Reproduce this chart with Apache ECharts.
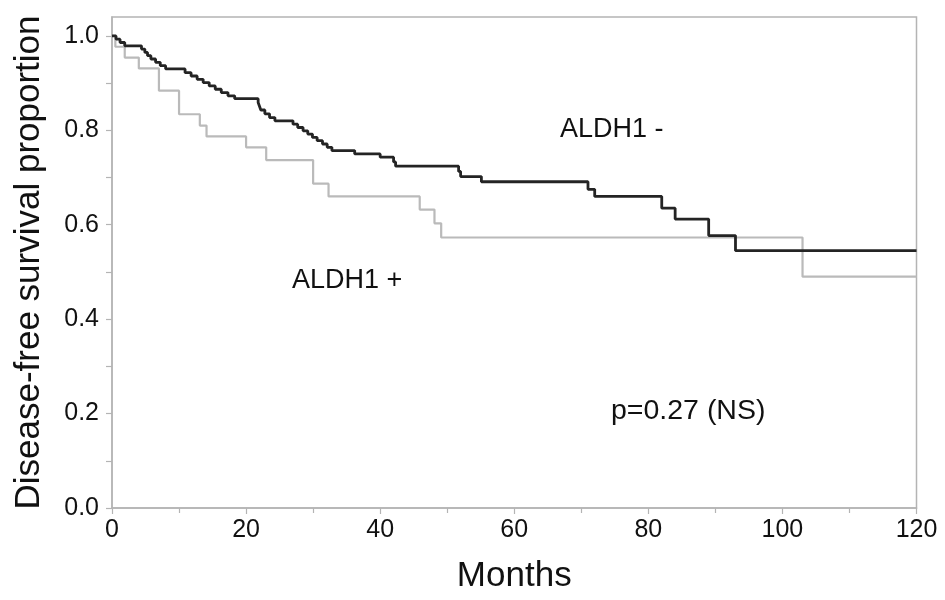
<!DOCTYPE html>
<html>
<head>
<meta charset="utf-8">
<script src="https://cdn.jsdelivr.net/npm/echarts@6/dist/echarts.min.js"></script>
<style>html,body{margin:0;padding:0;background:#fff}#c{width:945px;height:600px}</style>
</head>
<body>
<div id="c"></div>
<script>
// Kaplan-Meier steps: [month, survival proportion after event]
var aldhNeg = [[0,1.0],[0.6,0.993],[1.2,0.986],[1.9,0.979],[4.4,0.972],[4.9,0.965],[5.3,0.958],[5.8,0.951],[6.5,0.944],[7.2,0.937],[8.0,0.930],
  [10.9,0.922],[11.8,0.915],[12.7,0.908],[13.6,0.901],[14.5,0.894],[15.4,0.887],[16.3,0.880],[17.3,0.873],[18.3,0.867],
  [21.8,0.859],[22.0,0.851],[22.2,0.843],[22.8,0.835],[23.5,0.827],[24.3,0.820],
  [27.0,0.813],[27.7,0.806],[28.5,0.799],[29.2,0.792],[29.9,0.785],[30.6,0.778],[31.4,0.771],[32.1,0.764],[32.8,0.757],
  [36.2,0.750],[40.0,0.743],[42.0,0.733],[42.3,0.724],[51.7,0.713],[52.0,0.702],[55.1,0.691],
  [71.0,0.675],[72.0,0.660],[82.0,0.635],[84.0,0.612],[89.0,0.577],[93.0,0.545],[120,0.545]];
var aldhPos = [[0,1.0],[0.5,0.977],[1.9,0.954],[4.0,0.931],[7.0,0.884],[10.0,0.834],[13.1,0.810],[14.1,0.787],
  [20.0,0.764],[23.0,0.737],[30.0,0.687],[32.3,0.660],[45.9,0.632],[48.1,0.603],[49.1,0.573],[103.0,0.490],[120,0.490]];
var yTickLabels = [0, 0.2, 0.4, 0.6, 0.8, 1.0];
var xTickLabels = [0, 20, 40, 60, 80, 100, 120];
var texts = {neg: 'ALDH1 -', pos: 'ALDH1 +', p: 'p=0.27 (NS)'};

var chart = echarts.init(document.getElementById('c'), null, {renderer: 'canvas'});
var font = 'Liberation Sans, Arial, sans-serif';
var axisGrey = '#b4b4b4';
chart.setOption({
  animation: false,
  backgroundColor: '#fff',
  grid: {left: 112, right: 28.5, top: 17, bottom: 92, show: true, borderColor: axisGrey, borderWidth: 1.5, containLabel: false},
  xAxis: {
    type: 'value', min: 0, max: 120, interval: 20,
    name: 'Months', nameLocation: 'middle', nameGap: 51,
    nameTextStyle: {fontFamily: font, fontSize: 35, color: '#111'},
    axisLine: {show: true, lineStyle: {color: axisGrey, width: 1.5}},
    axisTick: {show: true, length: 6, lineStyle: {color: axisGrey, width: 1.2}},
    minorTick: {show: true, splitNumber: 2, length: 5, lineStyle: {color: axisGrey, width: 1.2}},
    axisLabel: {fontFamily: font, fontSize: 25, color: '#111', margin: 10,
      formatter: function (v) { return xTickLabels.indexOf(v) >= 0 ? String(v) : ''; }},
    splitLine: {show: false}
  },
  yAxis: {
    type: 'value', min: 0, max: 1.04, interval: 0.2,
    name: 'Disease-free survival proportion', nameLocation: 'middle', nameGap: 65,
    nameTextStyle: {fontFamily: font, fontSize: 35, color: '#111'},
    axisLine: {show: true, lineStyle: {color: axisGrey, width: 1.5}},
    axisTick: {show: true, length: 6, customValues: [0,0.1,0.2,0.3,0.4,0.5,0.6,0.7,0.8,0.9,1.0], lineStyle: {color: axisGrey, width: 1.2}},
    axisLabel: {fontFamily: font, fontSize: 25, color: '#111', margin: 13, customValues: yTickLabels,
      formatter: function (v) { return v.toFixed(1); }},
    splitLine: {show: false}
  },
  series: [
    {type: 'line', name: 'ALDH1 +', step: 'end', data: aldhPos, showSymbol: false, symbol: 'none',
      lineStyle: {color: '#bababa', width: 2.2}, z: 2},
    {type: 'line', name: 'ALDH1 -', step: 'end', data: aldhNeg, showSymbol: false, symbol: 'none',
      lineStyle: {color: '#242424', width: 2.8}, z: 3}
  ],
  graphic: [
    {type: 'text', left: 560, top: 116, style: {text: texts.neg, fontFamily: font, fontSize: 27, fill: '#111'}},
    {type: 'text', left: 292, top: 267, style: {text: texts.pos, fontFamily: font, fontSize: 27, fill: '#111'}},
    {type: 'text', left: 611, top: 397, style: {text: texts.p, fontFamily: font, fontSize: 28.5, fill: '#111'}}
  ]
});
</script>
</body>
</html>
